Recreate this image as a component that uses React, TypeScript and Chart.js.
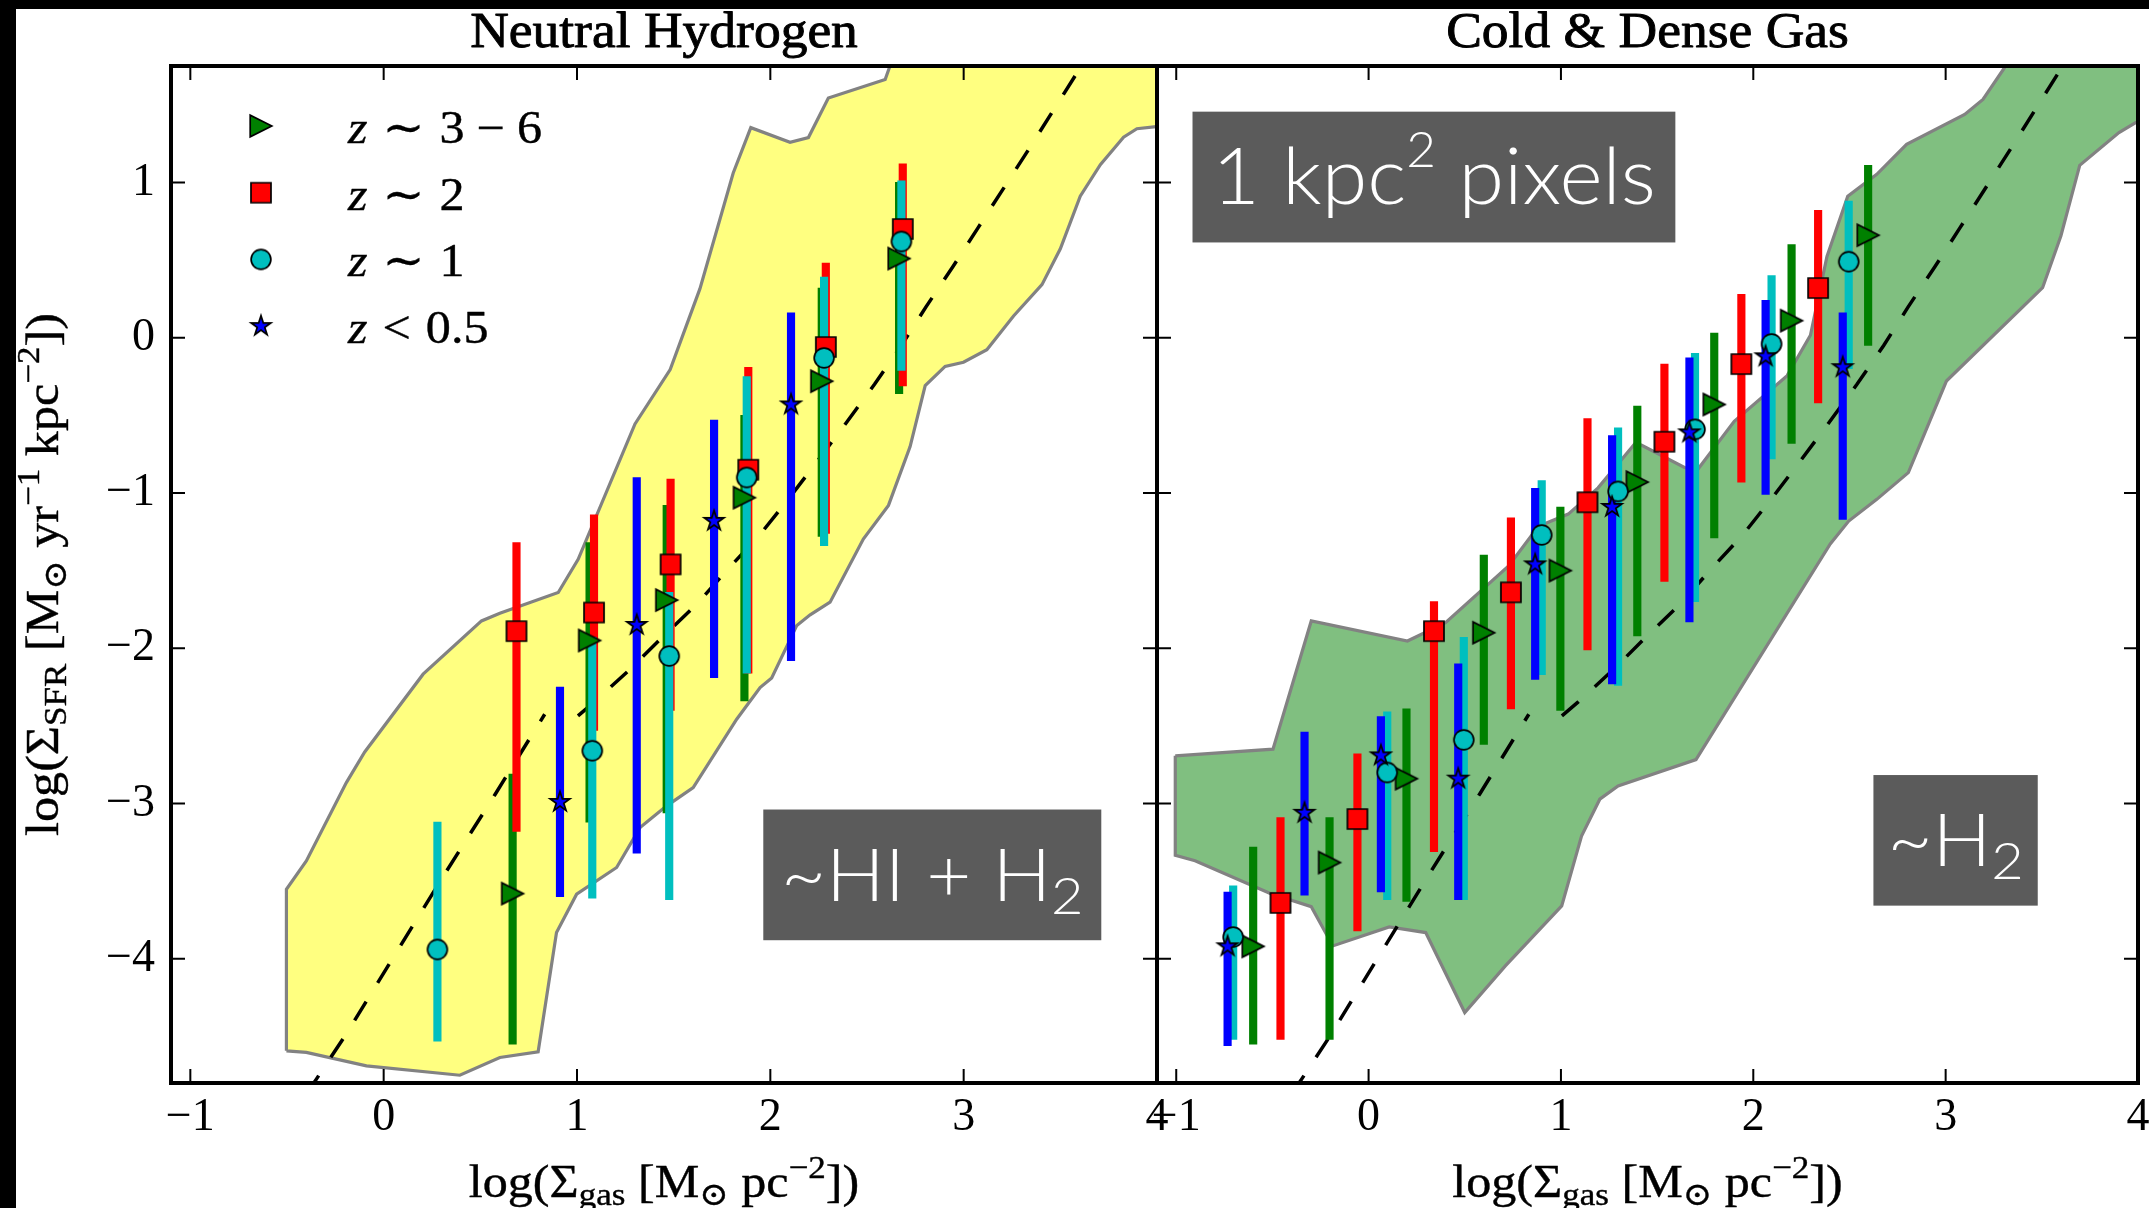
import React, { useEffect, useRef } from 'react';
import { Chart, registerables } from 'chart.js';

Chart.register(...registerables);

// ---------- axes ----------
const X_MIN = -1.1;
const X_MAX = 4;
const Y_MIN = -4.8;
const Y_MAX = 1.75;
const X_TICKS = [-1, 0, 1, 2, 3, 4];
const Y_TICKS = [-4, -3, -2, -1, 0, 1];

// ---------- dashed star-formation relation (log Σgas, log ΣSFR); null marks the break ----------
const REL_X = [-0.4, -0.348, -0.194, 0.06, 0.315, 0.577, 0.833, 0.92, 1.005, 1.09, 1.272, 1.443, 1.62, 1.78, 1.944, 2.099, 2.245, 2.392, 2.539, 2.677, 2.806, 2.944, 3.075, 3.342, 3.601, 3.65];
const REL_Y = [-4.87, -4.775, -4.485, -3.97, -3.455, -2.94, -2.425, null, -2.436, -2.345, -2.138, -1.927, -1.715, -1.491, -1.272, -1.03, -0.793, -0.549, -0.3, -0.052, 0.2, 0.457, 0.709, 1.224, 1.735, 1.83];

// ---------- Neutral Hydrogen panel ----------
const HI_Z36_X = [0.667, 1.065, 1.464, 1.866, 2.266, 2.666];
const HI_Z36_Y = [-3.58, -1.95, -1.69, -1.03, -0.28, 0.51];
const HI_Z36_LO = [-4.55, -3.12, -3.06, -2.34, -1.28, -0.36];
const HI_Z36_HI = [-2.81, -1.32, -1.08, -0.5, 0.32, 1.0];

const HI_Z2_X = [0.687, 1.088, 1.484, 1.886, 2.287, 2.685];
const HI_Z2_Y = [-1.89, -1.77, -1.46, -0.85, -0.06, 0.7];
const HI_Z2_LO = [-3.18, -2.53, -2.4, -2.16, -1.26, -0.31];
const HI_Z2_HI = [-1.32, -1.14, -0.91, -0.19, 0.48, 1.12];

const HI_Z1_X = [0.278, 1.079, 1.477, 1.878, 2.278, 2.678];
const HI_Z1_Y = [-3.94, -2.66, -2.05, -0.9, -0.13, 0.62];
const HI_Z1_LO = [-4.53, -3.61, -3.62, -2.16, -1.34, -0.21];
const HI_Z1_HI = [-3.12, -1.93, -1.64, -0.25, 0.39, 1.01];

const HI_Z05_X = [0.912, 1.309, 1.709, 2.107];
const HI_Z05_Y = [-2.99, -1.85, -1.18, -0.43];
const HI_Z05_LO = [-3.6, -3.32, -2.19, -2.08];
const HI_Z05_HI = [-2.25, -0.9, -0.53, 0.16];

// pixel-scatter envelope, HI + H2
const HI_ENV_X = [-0.503, -0.503, -0.4, -0.193, -0.098, 0.204, 0.506, 0.601, 0.903, 1.006, 1.3, 1.482, 1.636, 1.808, 1.899, 2.102, 2.197, 2.3, 2.594, 2.69, 4.3, 4.3, 3.996, 3.896, 3.827, 3.707, 3.603, 3.5, 3.405, 3.258, 3.12, 2.999, 2.904, 2.801, 2.723, 2.611, 2.481, 2.309, 2.206, 2.137, 2.007, 1.947, 1.826, 1.601, 1.464, 1.326, 1.205, 0.998, 0.894, 0.799, 0.601, 0.394, -0.089, -0.4];
const HI_ENV_Y = [-4.593, -3.552, -3.37, -2.865, -2.668, -2.167, -1.824, -1.775, -1.641, -1.427, -0.555, -0.205, 0.316, 1.061, 1.353, 1.259, 1.289, 1.544, 1.663, 2.0, 2.0, 1.359, 1.359, 1.346, 1.291, 1.115, 0.912, 0.573, 0.342, 0.14, -0.077, -0.158, -0.185, -0.308, -0.701, -1.08, -1.297, -1.703, -1.785, -1.853, -2.191, -2.253, -2.457, -2.897, -3.015, -3.155, -3.412, -3.584, -3.831, -4.599, -4.636, -4.75, -4.69, -4.603];

// ---------- Cold & Dense Gas panel ----------
const H2_Z36_X = [-0.6, -0.203, 0.197, 0.599, 0.997, 1.397, 1.797, 2.199, 2.597];
const H2_Z36_Y = [-3.92, -3.38, -2.84, -1.9, -1.5, -0.93, -0.43, 0.11, 0.66];
const H2_Z36_LO = [-4.55, -4.52, -3.63, -2.62, -2.4, -1.92, -1.29, -0.68, -0.05];
const H2_Z36_HI = [-3.28, -3.09, -2.39, -1.4, -1.09, -0.44, 0.03, 0.6, 1.11];

const H2_Z2_X = [-0.458, -0.058, 0.34, 0.74, 1.138, 1.538, 1.938, 2.337];
const H2_Z2_Y = [-3.64, -3.1, -1.89, -1.64, -1.06, -0.67, -0.17, 0.32];
const H2_Z2_LO = [-4.52, -3.82, -3.31, -2.39, -2.01, -1.57, -0.93, -0.42];
const H2_Z2_HI = [-3.09, -2.68, -1.7, -1.16, -0.52, -0.17, 0.28, 0.82];

const H2_Z1_X = [-0.704, 0.097, 0.495, 0.9, 1.297, 1.697, 2.095, 2.496];
const H2_Z1_Y = [-3.86, -2.8, -2.59, -1.27, -0.99, -0.59, -0.04, 0.49];
const H2_Z1_LO = [-4.52, -3.62, -3.62, -2.17, -2.24, -1.7, -0.78, -0.2];
const H2_Z1_HI = [-3.53, -2.41, -1.93, -0.92, -0.58, -0.1, 0.4, 0.88];

const H2_Z05_X = [-0.733, -0.333, 0.064, 0.466, 0.866, 1.266, 1.668, 2.064, 2.465];
const H2_Z05_Y = [-3.92, -3.06, -2.69, -2.84, -1.46, -1.09, -0.61, -0.12, -0.19];
const H2_Z05_LO = [-4.56, -3.59, -3.57, -3.62, -2.2, -2.23, -1.83, -1.01, -1.17];
const H2_Z05_HI = [-3.57, -2.54, -2.44, -2.1, -0.97, -0.63, -0.13, 0.24, 0.16];

// pixel-scatter envelope, H2 only
const H2_ENV_X = [-1.005, -0.497, -0.298, 0.202, 0.4, 0.728, 0.883, 1.038, 1.193, 1.383, 1.418, 1.642, 1.711, 1.901, 2.176, 2.297, 2.383, 2.491, 2.642, 2.797, 3.099, 3.194, 3.306, 3.37, 4.3, 4.3, 3.988, 3.901, 3.697, 3.599, 3.504, 3.004, 2.806, 2.642, 2.496, 2.4, 1.702, 1.297, 1.202, 1.107, 1.004, 0.711, 0.5, 0.297, 0.107, -0.186, -0.298, -0.514, -0.902, -1.005];
const H2_ENV_Y = [-2.693, -2.65, -1.824, -1.953, -1.835, -1.47, -1.215, -1.136, -0.967, -0.684, -0.691, -0.836, -0.849, -0.538, -0.244, 0.016, 0.524, 0.912, 1.052, 1.245, 1.438, 1.535, 1.739, 2.0, 2.0, 1.4, 1.385, 1.321, 1.11, 0.655, 0.322, -0.279, -0.869, -1.041, -1.181, -1.328, -2.717, -2.887, -2.972, -3.209, -3.659, -4.046, -4.346, -3.831, -3.795, -3.917, -3.664, -3.578, -3.369, -3.333];

// ---------- labels ----------
const TITLE_HI = 'Neutral Hydrogen';
const TITLE_H2 = 'Cold & Dense Gas';
const BOX_HI = '~HI + H';
const BOX_H2 = '~H';
const BOX_PIXELS = '1 kpc';

// ---------- styling ----------
const SERIF = "'Liberation Serif', 'DejaVu Serif', serif";
const SANS = "Lato, 'Open Sans', sans-serif";
const GREEN = '#008000';
const RED = '#ff0000';
const CYAN = '#00bfbf';
const BLUE = '#0000ff';
const TICK_LEN = 14;

type Seg = { t?: string; gap?: number; it?: boolean; sub?: boolean; sup?: boolean };
type RichOpts = {
  align?: 'left' | 'center';
  sx?: number;
  weight?: string;
  scriptScale?: number;
  subDy?: number;
  supDy?: number;
  stroke?: number;
};

function segFont(s: Seg, size: number, family: string, o: RichOpts) {
  const fs = s.sub || s.sup ? size * (o.scriptScale ?? 0.7) : size;
  return `${s.it ? 'italic ' : ''}${o.weight ?? 'normal'} ${fs}px ${family}`;
}

function drawRich(ctx: CanvasRenderingContext2D, segs: Seg[], x: number, y: number, size: number, family: string, o: RichOpts = {}) {
  const sx = o.sx ?? 1;
  let w = 0;
  for (const s of segs) {
    if (s.gap) { w += s.gap * size; continue; }
    ctx.font = segFont(s, size, family, o);
    w += ctx.measureText(s.t || '').width;
  }
  ctx.save();
  ctx.translate(x, y);
  ctx.scale(sx, 1);
  ctx.textAlign = 'left';
  ctx.textBaseline = 'alphabetic';
  if (o.stroke) {
    ctx.strokeStyle = ctx.fillStyle as string;
    ctx.lineWidth = o.stroke;
    ctx.lineJoin = 'round';
  }
  let cx = o.align === 'center' ? -w / 2 : 0;
  for (const s of segs) {
    if (s.gap) { cx += s.gap * size; continue; }
    ctx.font = segFont(s, size, family, o);
    const dy = s.sub ? (o.subDy ?? 0.18) * size : s.sup ? -(o.supDy ?? 0.42) * size : 0;
    ctx.fillText(s.t || '', cx, dy);
    if (o.stroke) ctx.strokeText(s.t || '', cx, dy);
    cx += ctx.measureText(s.t || '').width;
  }
  ctx.restore();
}

function makeMarker(kind: 'tri' | 'sq' | 'circ' | 'star', fill: string): HTMLCanvasElement {
  const size = 32;
  const c = document.createElement('canvas');
  c.width = size;
  c.height = size;
  const g = c.getContext('2d') as CanvasRenderingContext2D;
  const m = size / 2;
  g.beginPath();
  if (kind === 'tri') {
    g.moveTo(m + 10.8, m);
    g.lineTo(m - 10.8, m - 10.8);
    g.lineTo(m - 10.8, m + 10.8);
    g.closePath();
  } else if (kind === 'sq') {
    g.rect(m - 10, m - 10, 20, 20);
  } else if (kind === 'circ') {
    g.arc(m, m, 9.9, 0, Math.PI * 2);
  } else {
    const R = 10.4;
    const r = R * 0.381966;
    for (let k = 0; k < 10; k++) {
      const a = -Math.PI / 2 + (k * Math.PI) / 5;
      const rr = k % 2 ? r : R;
      const px = m + rr * Math.cos(a);
      const py = m + rr * Math.sin(a);
      if (k) g.lineTo(px, py); else g.moveTo(px, py);
    }
    g.closePath();
  }
  g.fillStyle = fill;
  g.fill();
  g.lineWidth = 1.7;
  g.strokeStyle = '#000';
  g.stroke();
  return c;
}

const X_LABEL: Seg[] = [
  { t: 'log(Σ' }, { t: 'gas', sub: true }, { t: ' [M' }, { t: '⊙', sub: true },
  { t: ' pc' }, { t: '−2', sup: true }, { t: '])' },
];
const Y_LABEL: Seg[] = [
  { t: 'log(Σ' }, { t: 'SFR', sub: true }, { t: ' [M' }, { t: '⊙', sub: true },
  { t: ' yr' }, { t: '−1', sup: true }, { t: ' kpc' }, { t: '−2', sup: true }, { t: '])' },
];
const LEGEND_TEXT: Seg[][] = [
  [{ t: 'z', it: true }, { gap: 0.3 }, { t: '∼' }, { gap: 0.3 }, { t: '3' }, { gap: 0.24 }, { t: '−' }, { gap: 0.24 }, { t: '6' }],
  [{ t: 'z', it: true }, { gap: 0.3 }, { t: '∼' }, { gap: 0.3 }, { t: '2' }],
  [{ t: 'z', it: true }, { gap: 0.3 }, { t: '∼' }, { gap: 0.3 }, { t: '1' }],
  [{ t: 'z', it: true }, { gap: 0.3 }, { t: '<' }, { gap: 0.3 }, { t: '0.5' }],
];

type Series = { x: number[]; y: number[]; lo: number[]; hi: number[]; color: string; marker: 'tri' | 'sq' | 'circ' | 'star' };

const HI_SERIES: Series[] = [
  { x: HI_Z36_X, y: HI_Z36_Y, lo: HI_Z36_LO, hi: HI_Z36_HI, color: GREEN, marker: 'tri' },
  { x: HI_Z2_X, y: HI_Z2_Y, lo: HI_Z2_LO, hi: HI_Z2_HI, color: RED, marker: 'sq' },
  { x: HI_Z1_X, y: HI_Z1_Y, lo: HI_Z1_LO, hi: HI_Z1_HI, color: CYAN, marker: 'circ' },
  { x: HI_Z05_X, y: HI_Z05_Y, lo: HI_Z05_LO, hi: HI_Z05_HI, color: BLUE, marker: 'star' },
];
const H2_SERIES: Series[] = [
  { x: H2_Z36_X, y: H2_Z36_Y, lo: H2_Z36_LO, hi: H2_Z36_HI, color: GREEN, marker: 'tri' },
  { x: H2_Z2_X, y: H2_Z2_Y, lo: H2_Z2_LO, hi: H2_Z2_HI, color: RED, marker: 'sq' },
  { x: H2_Z1_X, y: H2_Z1_Y, lo: H2_Z1_LO, hi: H2_Z1_HI, color: CYAN, marker: 'circ' },
  { x: H2_Z05_X, y: H2_Z05_Y, lo: H2_Z05_LO, hi: H2_Z05_HI, color: BLUE, marker: 'star' },
];

const fmtTick = (v: number | string) => {
  const n = Number(v);
  return n < 0 ? '\u2212' + Math.abs(n) : String(n);
};

function buildConfig(panel: 'hi' | 'h2'): any {
  const series = panel === 'hi' ? HI_SERIES : H2_SERIES;
  const envX = panel === 'hi' ? HI_ENV_X : H2_ENV_X;
  const envY = panel === 'hi' ? HI_ENV_Y : H2_ENV_Y;
  const markers = series.map((s) => makeMarker(s.marker, s.color));

  const datasets: any[] = [];
  series.forEach((s, i) => {
    datasets.push({
      type: 'scatter',
      data: s.x.map((x, k) => ({ x, y: s.y[k] })),
      pointStyle: markers[i],
      pointRadius: 10,
      order: 3 - i,
    });
    datasets.push({
      type: 'bar',
      data: s.x.map((x, k) => ({ x, y: [s.lo[k], s.hi[k]] })),
      backgroundColor: s.color,
      borderWidth: 0,
      barThickness: 7.5,
      grouped: false,
      order: 7 - i,
    });
  });
  datasets.push({
    type: 'line',
    data: REL_X.map((x, k) => ({ x, y: REL_Y[k] })),
    borderColor: '#000',
    borderWidth: 3.5,
    borderDash: [22, 22],
    pointRadius: 0,
    fill: false,
    spanGaps: false,
    tension: 0,
    order: 8,
  });
  const env = envX.map((x, k) => ({ x, y: envY[k] }));
  env.push(env[0]);
  datasets.push({
    type: 'line',
    data: env,
    backgroundColor: panel === 'hi' ? '#ffff80' : '#80bf80',
    borderColor: '#828282',
    borderWidth: 3.2,
    pointRadius: 0,
    fill: 'shape',
    tension: 0,
    order: 9,
  });

  const decor = {
    id: 'decor-' + panel,
    afterDatasetsDraw(chart: any) {
      const { ctx, chartArea: a } = chart;
      const xs = chart.scales.x;
      const ys = chart.scales.y;
      const aw = a.right - a.left;
      const ah = a.bottom - a.top;
      ctx.save();

      // grey annotation boxes with white lettering
      const box = (f: number[], draw: (cx: number, cy: number) => void) => {
        const x0 = a.left + f[0] * aw, y0 = a.top + f[1] * ah;
        const x1 = a.left + f[2] * aw, y1 = a.top + f[3] * ah;
        ctx.fillStyle = '#5b5b5b';
        ctx.fillRect(x0, y0, x1 - x0, y1 - y0);
        ctx.fillStyle = '#fff';
        draw((x0 + x1) / 2, (y0 + y1) / 2);
      };
      if (panel === 'hi') {
        box([0.6007, 0.7311, 0.9435, 0.8596], (cx, cy) =>
          drawRich(ctx, [{ t: BOX_HI }, { t: '2', sub: true }], cx, cy + 26, 72, SANS,
            { align: 'center', sx: 1.08, weight: '300', scriptScale: 0.72, subDy: 0.18 }));
      } else {
        box([0.0362, 0.0449, 0.5284, 0.1735], (cx, cy) =>
          drawRich(ctx, [{ t: BOX_PIXELS }, { t: '2', sup: true }, { t: ' pixels' }], cx, cy + 27, 78, SANS,
            { align: 'center', sx: 1.06, weight: '300', scriptScale: 0.62, supDy: 0.47 }));
        box([0.7303, 0.6972, 0.8978, 0.8256], (cx, cy) =>
          drawRich(ctx, [{ t: BOX_H2 }, { t: '2', sub: true }], cx, cy + 26, 72, SANS,
            { align: 'center', sx: 1.08, weight: '300', scriptScale: 0.72, subDy: 0.18 }));
      }

      // legend
      if (panel === 'hi') {
        for (let i = 0; i < 4; i++) {
          const my = a.top + 60 + i * 66.7;
          const mk = markers[i];
          ctx.drawImage(mk, a.left + 90 - mk.width / 2, my - mk.height / 2);
          ctx.fillStyle = '#000';
          drawRich(ctx, LEGEND_TEXT[i], a.left + 177, my + 17, 46, SERIF, { sx: 1.09, stroke: 0.4 });
        }
      }

      // inward tick marks on all four sides, then the frame
      ctx.strokeStyle = '#000';
      ctx.lineWidth = 2;
      ctx.beginPath();
      for (const v of X_TICKS) {
        const px = xs.getPixelForValue(v);
        ctx.moveTo(px, a.bottom);
        ctx.lineTo(px, a.bottom - TICK_LEN);
        ctx.moveTo(px, a.top);
        ctx.lineTo(px, a.top + TICK_LEN);
      }
      for (const v of Y_TICKS) {
        const py = ys.getPixelForValue(v);
        ctx.moveTo(a.left, py);
        ctx.lineTo(a.left + TICK_LEN, py);
        ctx.moveTo(a.right, py);
        ctx.lineTo(a.right - TICK_LEN, py);
      }
      ctx.stroke();
      ctx.lineWidth = 4;
      ctx.strokeRect(a.left, a.top, aw, ah);
      ctx.restore();
    },
    afterDraw(chart: any) {
      const { ctx, chartArea: a } = chart;
      const cx = (a.left + a.right) / 2;
      ctx.save();
      ctx.fillStyle = '#000';
      drawRich(ctx, [{ t: panel === 'hi' ? TITLE_HI : TITLE_H2 }], cx, 47, 50, SERIF, { align: 'center', sx: 1.07, stroke: 0.9 });
      drawRich(ctx, X_LABEL, cx, 1197, 46, SERIF, { align: 'center', sx: 1.09, stroke: 0.4 });
      if (panel === 'hi') {
        ctx.save();
        ctx.translate(58, (a.top + a.bottom) / 2);
        ctx.rotate(-Math.PI / 2);
        drawRich(ctx, Y_LABEL, 0, 0, 46, SERIF, { align: 'center', sx: 1.09, stroke: 0.4 });
        ctx.restore();
      }
      ctx.restore();
    },
  };

  const tickFont = { family: SERIF, size: 46, lineHeight: 1.2 };
  const yWidth = panel === 'hi' ? 171 : 0;
  return {
    type: 'scatter',
    data: { datasets },
    options: {
      responsive: false,
      animation: false,
      events: [],
      layout: {
        padding: panel === 'hi'
          ? { left: 0, top: 66, right: 23, bottom: 0 }
          : { left: 17, top: 66, right: 7, bottom: 0 },
      },
      plugins: { legend: { display: false }, tooltip: { enabled: false }, title: { display: false } },
      scales: {
        x: {
          type: 'linear',
          min: X_MIN,
          max: X_MAX,
          offset: false,
          grid: { display: false, drawTicks: false },
          border: { display: false },
          afterBuildTicks: (s: any) => { s.ticks = X_TICKS.map((value) => ({ value })); },
          afterFit: (s: any) => { s.height = 125; s.paddingLeft = 0; s.paddingRight = 0; },
          ticks: { autoSkip: false, maxRotation: 0, minRotation: 0, padding: 7, color: '#000', font: tickFont, callback: fmtTick },
        },
        y: {
          type: 'linear',
          display: panel === 'hi',
          min: Y_MIN,
          max: Y_MAX,
          grid: { display: false, drawTicks: false },
          border: { display: false },
          afterBuildTicks: (s: any) => { s.ticks = Y_TICKS.map((value) => ({ value })); },
          afterFit: (s: any) => { s.width = yWidth; s.paddingTop = 0; s.paddingBottom = 0; },
          ticks: { autoSkip: false, padding: 16, color: '#000', font: tickFont, callback: fmtTick },
        },
      },
    },
    plugins: [decor],
  };
}

function Panel({ panel, left, width }: { panel: 'hi' | 'h2'; left: number; width: number }) {
  const ref = useRef<HTMLCanvasElement>(null);
  useEffect(() => {
    const chart = new Chart(ref.current as HTMLCanvasElement, buildConfig(panel));
    return () => chart.destroy();
  }, [panel]);
  return (
    <canvas
      ref={ref}
      width={width}
      height={1208}
      style={{ position: 'absolute', left, top: 0, width, height: 1208 }}
    />
  );
}

export default function App() {
  return (
    <div style={{ position: 'fixed', left: 0, top: 0, width: 2149, height: 1208, background: '#000', overflow: 'hidden' }}>
      <div style={{ position: 'absolute', left: 16, top: 9, width: 2133, height: 1199, background: '#fff' }} />
      <Panel panel="hi" left={0} width={1180} />
      <Panel panel="h2" left={1140} width={1009} />
    </div>
  );
}
